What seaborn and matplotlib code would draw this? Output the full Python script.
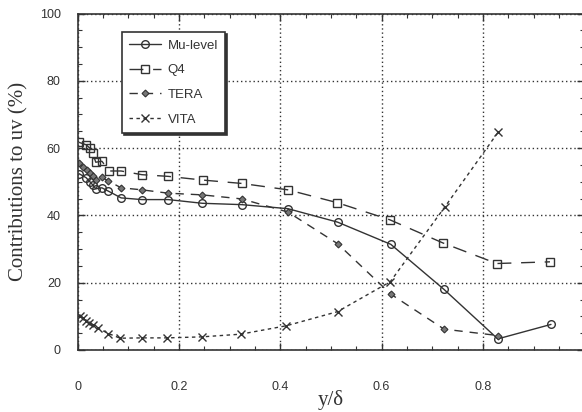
import numpy as np
import pandas as pd
import matplotlib
matplotlib.use("Agg")
import matplotlib.pyplot as plt
import seaborn as sns
from matplotlib.ticker import MultipleLocator

# Wall-normal positions y/delta
x_mu = [0.003, 0.017, 0.025, 0.031, 0.036, 0.048, 0.061, 0.086, 0.127, 0.179,
        0.246, 0.324, 0.415, 0.513, 0.618, 0.723, 0.829, 0.934]
mu_level = [52.4, 51.2, 49.9, 48.9, 47.9, 48.2, 47.2, 45.2, 44.7, 44.7,
            43.6, 43.2, 42.0, 38.0, 31.4, 18.0, 3.3, 7.6]

x_q4 = [0.003, 0.017, 0.025, 0.030, 0.036, 0.048, 0.063, 0.086, 0.127, 0.179,
        0.247, 0.324, 0.415, 0.512, 0.616, 0.721, 0.827, 0.932]
q4 = [61.7, 61.0, 59.9, 58.5, 55.8, 56.1, 53.2, 53.2, 52.1, 51.6,
      50.5, 49.5, 47.6, 43.8, 38.7, 31.8, 25.7, 26.2]

x_tera = [0.003, 0.011, 0.018, 0.025, 0.031, 0.036, 0.048, 0.061, 0.086, 0.127,
          0.179, 0.246, 0.324, 0.415, 0.513, 0.618, 0.723, 0.829]
tera = [55.6, 54.3, 53.5, 52.5, 51.6, 50.6, 51.3, 50.2, 48.2, 47.6,
        46.6, 46.1, 44.9, 41.0, 31.6, 16.6, 6.2, 4.3]

x_vita = [0.004, 0.010, 0.017, 0.023, 0.030, 0.040, 0.061, 0.084, 0.127, 0.177,
          0.245, 0.322, 0.412, 0.513, 0.617, 0.725, 0.830]
vita = [10.0, 9.4, 8.7, 8.1, 7.5, 6.5, 4.9, 3.5, 3.6, 3.6,
        3.9, 4.7, 7.2, 11.4, 20.3, 42.6, 64.8]

sns.set_theme(style="ticks")
plt.rcParams["font.family"] = ["Liberation Sans", "DejaVu Sans"]

ink = "#333333"
fig = plt.figure(figsize=(5.82, 4.12), dpi=100)
ax = fig.add_axes([0.1332, 0.1505, 0.871, 0.8167])

common = dict(ax=ax, color=ink, linewidth=1.0, sort=False)
sns.lineplot(x=x_mu, y=mu_level, label="Mu-level", marker="o", markersize=5.5,
             markerfacecolor="none", markeredgecolor=ink, markeredgewidth=1.0,
             **common)
sns.lineplot(x=x_q4, y=q4, label="Q4", marker="s", markersize=5.5,
             markerfacecolor="none", markeredgecolor=ink, markeredgewidth=1.0,
             linestyle=(0, (10, 7)), **common)
sns.lineplot(x=x_tera, y=tera, label="TERA", marker="D", markersize=3.5,
             markerfacecolor="#777777", markeredgecolor=ink, markeredgewidth=0.8,
             linestyle=(0, (6, 5)), **common)
sns.lineplot(x=x_vita, y=vita, label="VITA", marker="x", markersize=5.5,
             markeredgecolor=ink, markeredgewidth=1.0,
             linestyle=(0, (2.5, 2.5)), **common)

ax.set_xlim(0, 1)
ax.set_ylim(0, 100)
ax.xaxis.set_major_locator(MultipleLocator(0.2))
ax.xaxis.set_minor_locator(MultipleLocator(0.05))
ax.yaxis.set_major_locator(MultipleLocator(20))
ax.yaxis.set_minor_locator(MultipleLocator(5))
ax.set_xticks([0, 0.2, 0.4, 0.6, 0.8, 1.0])
ax.set_xticklabels(["0", "0.2", "0.4", "0.6", "0.8", "1"])
ax.set_yticks([0, 20, 40, 60, 80, 100])
ax.set_yticklabels(["0", "20", "40", "60", "80", "100"])

ax.tick_params(which="both", direction="in", top=True, right=True, colors=ink)
ax.tick_params(which="major", length=5, width=1.0, labelsize=9)
ax.tick_params(which="minor", length=3, width=0.8)
ax.tick_params(axis="x", which="major", pad=22)
ax.tick_params(axis="y", which="major", pad=12)

for side in ax.spines.values():
    side.set_color(ink)
    side.set_linewidth(1.2)

ax.grid(True, which="major", color=ink, linestyle=(0, (1, 2.0)), linewidth=1.0)

ax.set_xlabel("y/δ", family=["Liberation Serif", "DejaVu Serif"], fontsize=15,
              color=ink, labelpad=-2)
ax.set_ylabel("Contributions to uv (%)", family=["Liberation Serif", "DejaVu Serif"],
              fontsize=15, color=ink, labelpad=8)

leg = ax.legend(loc="upper left", bbox_to_anchor=(0.088, 0.945), borderaxespad=0,
                frameon=True, fancybox=False, handlelength=2.4, handletextpad=0.5,
                labelspacing=0.95, fontsize=9.5, borderpad=0.55,
                shadow={"color": ink, "alpha": 1.0, "ox": 1.5, "oy": -1.5})
leg.get_frame().set_edgecolor(ink)
leg.get_frame().set_linewidth(1.2)
leg.get_frame().set_facecolor("white")
leg.get_frame().set_alpha(1.0)
for t in leg.get_texts():
    t.set_color(ink)

fig.savefig("out.png", dpi=100, facecolor="white")
